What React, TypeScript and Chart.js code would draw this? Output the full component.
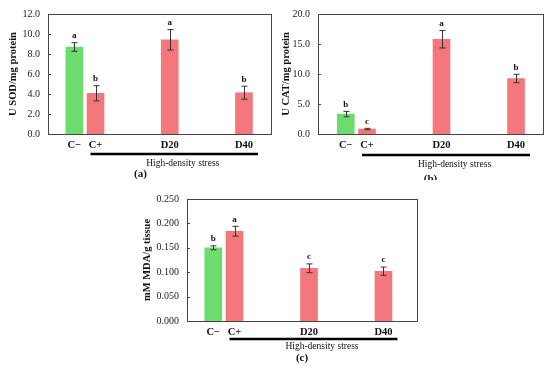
import React, { useEffect, useRef } from "react";
import { Chart, registerables } from "chart.js";
Chart.register(...registerables);

const categories = ["C−", "C+", "D20", "D40"];
const xPositions = [0.715, 1, 2, 3];
const barColors = ["#6cdc6c", "#f3777b", "#f3777b", "#f3777b"];
const groupLabel = "High-density stress";

const sodValues = [8.7, 4.07, 9.42, 4.13];
const sodErrors = [0.43, 0.76, 1.02, 0.65];
const sodLetters = ["a", "b", "a", "b"];

const catValues = [3.32, 0.83, 15.79, 9.25];
const catErrors = [0.45, 0.12, 1.45, 0.7];
const catLetters = ["b", "c", "a", "b"];

const mdaValues = [0.15, 0.184, 0.108, 0.102];
const mdaErrors = [0.004, 0.01, 0.009, 0.0085];
const mdaLetters = ["b", "a", "c", "c"];

const serif = "'Liberation Serif', 'Times New Roman', serif";

type PanelCfg = {
  values: number[];
  errors: number[];
  letters: string[];
  yMax: number;
  yStep: number;
  decimals: number;
  yTitle: string;
  caption: string;
  left: number;
  top: number;
  w: number;
  h: number;
  padTop: number;
  padRight: number;
  yWidth: number;
  xHeight: number;
  titlePad: number;
  xMin: number;
  xMax: number;
  bracketY: number;
  labelY: number;
  captionY: number;
  captionDX: number;
};

const panels: PanelCfg[] = [
  {
    values: sodValues, errors: sodErrors, letters: sodLetters,
    yMax: 12, yStep: 2, decimals: 1, yTitle: "U SOD/mg protein", caption: "(a)",
    left: 0, top: 0, w: 275, h: 180, padTop: 13, padRight: 4, yWidth: 48, xHeight: 46,
    titlePad: 6.7, xMin: 0.36, xMax: 3.364, bracketY: 20, labelY: 29, captionY: 40, captionDX: -19,
  },
  {
    values: catValues, errors: catErrors, letters: catLetters,
    yMax: 20, yStep: 5, decimals: 1, yTitle: "U CAT/mg protein", caption: "(b)",
    left: 275, top: 0, w: 275, h: 180, padTop: 13, padRight: 7, yWidth: 43, xHeight: 46,
    titlePad: 4.7, xMin: 0.342, xMax: 3.362, bracketY: 21, labelY: 30, captionY: 45, captionDX: 0,
  },
  {
    values: mdaValues, errors: mdaErrors, letters: mdaLetters,
    yMax: 0.25, yStep: 0.05, decimals: 3, yTitle: "mM MDA/g tissue", caption: "(c)",
    left: 130, top: 180, w: 290, h: 191, padTop: 19, padRight: 3, yWidth: 57, xHeight: 50,
    titlePad: 10.7, xMin: 0.362, xMax: 3.45, bracketY: 18, labelY: 25, captionY: 37, captionDX: 0,
  },
];

function Panel({ cfg }: { cfg: PanelCfg }) {
  const ref = useRef<HTMLCanvasElement>(null);
  useEffect(() => {
    const canvas = ref.current;
    if (!canvas) return;
    const overlay = {
      id: "overlay",
      afterDatasetsDraw(chart: any) {
        const { ctx, chartArea } = chart;
        const ys = chart.scales.y;
        const meta = chart.getDatasetMeta(0);
        ctx.save();
        ctx.strokeStyle = "#333";
        ctx.lineWidth = 1;
        cfg.values.forEach((v, i) => {
          const el = meta.data[i];
          const x = Math.round(el.x) + 0.5;
          const yt = ys.getPixelForValue(v + cfg.errors[i]);
          const yb = ys.getPixelForValue(v - cfg.errors[i]);
          ctx.beginPath();
          ctx.moveTo(x, yt);
          ctx.lineTo(x, yb);
          ctx.moveTo(x - 3, yt);
          ctx.lineTo(x + 3, yt);
          ctx.moveTo(x - 3, yb);
          ctx.lineTo(x + 3, yb);
          ctx.stroke();
          ctx.fillStyle = "#111";
          ctx.font = `bold 9px ${serif}`;
          ctx.textAlign = "center";
          ctx.textBaseline = "middle";
          ctx.fillText(cfg.letters[i], el.x, yt - 7);
        });
        ctx.strokeStyle = "#444";
        ctx.lineWidth = 1;
        ctx.strokeRect(
          Math.round(chartArea.left) + 0.5,
          Math.round(chartArea.top) + 0.5,
          Math.round(chartArea.right - chartArea.left),
          Math.round(chartArea.bottom - chartArea.top)
        );
        ys.ticks.forEach((t: any) => {
          const py = Math.round(ys.getPixelForValue(t.value)) + 0.5;
          ctx.beginPath();
          ctx.moveTo(chartArea.left, py);
          ctx.lineTo(chartArea.left + 3, py);
          ctx.stroke();
        });
        ctx.restore();
      },
      afterDraw(chart: any) {
        const { ctx, chartArea } = chart;
        const xs = chart.scales.x;
        ctx.save();
        const x0 = xs.getPixelForValue(xPositions[1]) - 5;
        const x1 = xs.getPixelForValue(xPositions[3]) + 14;
        const by = chartArea.bottom + cfg.bracketY;
        ctx.strokeStyle = "#000";
        ctx.lineWidth = 2.5;
        ctx.beginPath();
        ctx.moveTo(x0, by);
        ctx.lineTo(x1, by);
        ctx.stroke();
        ctx.fillStyle = "#111";
        ctx.textAlign = "center";
        ctx.textBaseline = "middle";
        ctx.font = `9.5px ${serif}`;
        ctx.fillText(groupLabel, xs.getPixelForValue(xPositions[2]) + 13, chartArea.bottom + cfg.labelY);
        ctx.font = `bold 11px ${serif}`;
        ctx.fillText(cfg.caption, (chartArea.left + chartArea.right) / 2 + cfg.captionDX, chartArea.bottom + cfg.captionY);
        ctx.restore();
      },
    };
    const chart = new Chart(canvas, {
      type: "bar",
      data: {
        datasets: [
          {
            data: cfg.values.map((v, i) => ({ x: xPositions[i], y: v })),
            backgroundColor: barColors,
            borderWidth: 0,
            barThickness: 17,
          },
        ],
      },
      options: {
        animation: false,
        responsive: false,
        devicePixelRatio: 1,
        layout: { padding: { left: 0, top: cfg.padTop, right: cfg.padRight, bottom: 0 } },
        plugins: { legend: { display: false }, tooltip: { enabled: false } },
        scales: {
          x: {
            type: "linear",
            offset: false,
            bounds: "ticks",
            min: cfg.xMin,
            max: cfg.xMax,
            grid: { display: false, drawTicks: false, offset: false },
            border: { display: false },
            afterBuildTicks: (scale: any) => {
              scale.ticks = xPositions.map((v) => ({ value: v }));
            },
            afterFit: (scale: any) => {
              scale.height = cfg.xHeight;
            },
            ticks: {
              autoSkip: false,
              maxRotation: 0,
              minRotation: 0,
              padding: 5,
              color: "#111",
              font: { family: serif, size: 10.5, weight: "bold" },
              callback: (_v: any, i: number) => categories[i],
            },
          },
          y: {
            min: 0,
            max: cfg.yMax,
            grid: { display: false, drawTicks: false },
            border: { display: false },
            afterFit: (scale: any) => {
              scale.width = cfg.yWidth;
            },
            ticks: {
              stepSize: cfg.yStep,
              padding: 8,
              color: "#222",
              font: { family: serif, size: 10 },
              callback: (v: any) => Number(v).toFixed(cfg.decimals),
            },
            title: {
              display: true,
              text: cfg.yTitle,
              color: "#111",
              padding: { top: cfg.titlePad, bottom: 0 },
              font: { family: serif, size: 10.5, weight: "bold" },
            },
          },
        },
      },
      plugins: [overlay],
    } as any);
    return () => chart.destroy();
  }, []);
  return (
    <canvas
      ref={ref}
      width={cfg.w}
      height={cfg.h}
      style={{ position: "absolute", left: cfg.left, top: cfg.top, width: cfg.w, height: cfg.h }}
    />
  );
}

export default function App() {
  return (
    <div style={{ position: "absolute", left: 0, top: 0, width: 550, height: 371, background: "#fff" }}>
      {panels.map((p, i) => (
        <Panel key={i} cfg={p} />
      ))}
    </div>
  );
}
